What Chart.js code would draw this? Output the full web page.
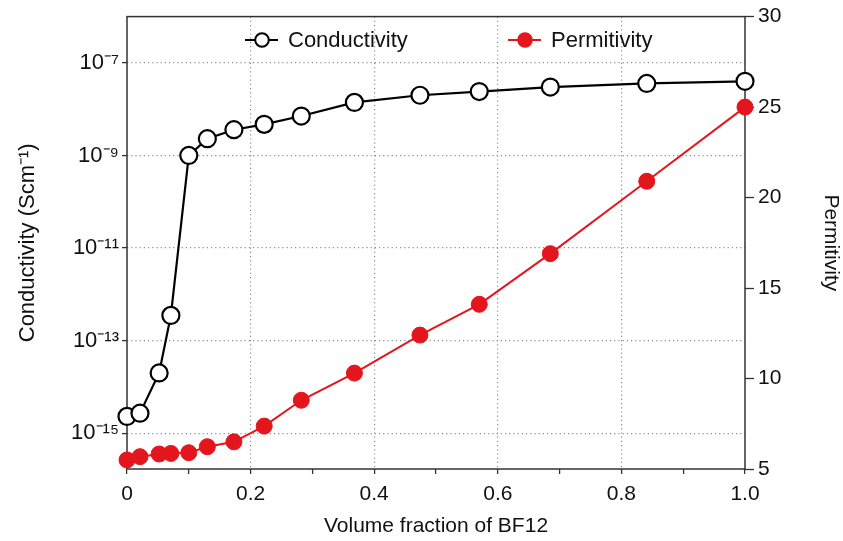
<!DOCTYPE html>
<html><head><meta charset="utf-8">
<script src="https://cdn.jsdelivr.net/npm/chart.js@4/dist/chart.umd.min.js"></script>
<style>html,body{margin:0;padding:0;background:#fff}#wrap{width:843px;height:541px}</style>
</head><body><div id="wrap"><canvas id="c" width="843" height="541"></canvas></div>
<script>
const volumeFraction = [0, 0.021, 0.052, 0.071, 0.10, 0.13, 0.173, 0.222, 0.282, 0.368, 0.474, 0.57, 0.685, 0.841, 1.0];
const conductivity = [2.3e-15, 2.7e-15, 2.0e-14, 3.5e-13, 1.0e-9, 2.3e-9, 3.6e-9, 4.7e-9, 7.1e-9, 1.4e-8, 2.0e-8, 2.4e-8, 3.0e-8, 3.6e-8, 4.0e-8];
const permittivity = [5.5, 5.68, 5.83, 5.86, 5.9, 6.23, 6.5, 7.37, 8.8, 10.3, 12.4, 14.1, 16.9, 20.9, 25.0];
const seriesNames = ['Conductivity', 'Permitivity'];
const conductivityTicks = [1e-15, 1e-13, 1e-11, 1e-9, 1e-7];
const conductivityTickLabels = ['10\u207B\u00B9\u2075', '10\u207B\u00B9\u00B3', '10\u207B\u00B9\u00B9', '10\u207B\u2079', '10\u207B\u2077'];
const xTickLabels = ['0', '0.2', '0.4', '0.6', '0.8', '1.0'];

const FONT = '"Liberation Sans", Arial, Helvetica, sans-serif';
const RED = '#e3161e';
const GRID = '#8f8f8f';
const AXIS = '#333333';
Chart.defaults.font.family = FONT;
Chart.defaults.color = '#111111';

const frame = {
  id: 'frame',
  beforeDatasetsDraw(chart) {
    const {ctx, chartArea: a} = chart;
    ctx.save();
    ctx.strokeStyle = AXIS;
    ctx.lineWidth = 1.5;
    ctx.strokeRect(a.left, a.top, a.right - a.left, a.bottom - a.top);
    ctx.restore();
  }
};

const legendInside = {
  id: 'legendInside',
  afterDraw(chart) {
    const {ctx} = chart;
    const starts = [245, 508];
    const y = 40;
    ctx.save();
    chart.data.datasets.forEach((ds, i) => {
      const x0 = starts[i];
      ctx.strokeStyle = ds.borderColor;
      ctx.lineWidth = 2;
      ctx.beginPath(); ctx.moveTo(x0, y); ctx.lineTo(x0 + 33, y); ctx.stroke();
      ctx.beginPath(); ctx.arc(x0 + 17, y, 6.8, 0, Math.PI * 2);
      ctx.fillStyle = ds.pointBackgroundColor; ctx.fill();
      ctx.lineWidth = 2; ctx.strokeStyle = ds.pointBorderColor; ctx.stroke();
      ctx.fillStyle = '#111';
      ctx.font = '22px ' + FONT;
      ctx.textBaseline = 'middle';
      ctx.fillText(ds.label, x0 + 43, y + 1);
    });
    ctx.restore();
  }
};

new Chart(document.getElementById('c'), {
  type: 'line',
  data: {
    datasets: [
      {
        label: seriesNames[0],
        data: volumeFraction.map((x, i) => ({x, y: conductivity[i]})),
        yAxisID: 'y',
        borderColor: '#000000', borderWidth: 2.2,
        pointBackgroundColor: '#ffffff', pointBorderColor: '#000000',
        pointRadius: 8.5, pointBorderWidth: 2.2,
        clip: false
      },
      {
        label: seriesNames[1],
        data: volumeFraction.map((x, i) => ({x, y: permittivity[i]})),
        yAxisID: 'y2',
        borderColor: RED, borderWidth: 2,
        pointBackgroundColor: RED, pointBorderColor: RED,
        pointRadius: 8, pointBorderWidth: 1,
        clip: false
      }
    ]
  },
  options: {
    responsive: false, animation: false, devicePixelRatio: 1,
    layout: {padding: {top: 15, left: 0, right: 0, bottom: 0}},
    plugins: {legend: {display: false}, tooltip: {enabled: false}},
    scales: {
      x: {
        type: 'linear', position: 'bottom', min: 0, max: 1,
        ticks: {
          stepSize: 0.1, autoSkip: false, maxRotation: 0, padding: 8,
          font: {size: 21}, color: '#111',
          callback: (v) => { const i = Math.round(v * 10); return i % 2 === 0 ? xTickLabels[i / 2] : ''; }
        },
        grid: {
          color: (c) => {
            if (!c.tick) return 'rgba(0,0,0,0)';
            const i = Math.round(c.tick.value * 10);
            return (i % 2 === 0 && i > 0 && i < 10) ? GRID : 'rgba(0,0,0,0)';
          },
          lineWidth: 1.2, borderDash: [1.2, 3], tickBorderDash: [],
          tickColor: AXIS, tickLength: 5, tickWidth: 1.3
        },
        border: {display: false, dash: [1.2, 3]},
        title: {display: true, text: 'Volume fraction of BF12', font: {size: 21}, color: '#111', padding: {top: 1, bottom: 2}},
        afterFit: (s) => { s.height = 72; }
      },
      y: {
        type: 'logarithmic', position: 'left', min: 1.68e-16, max: 1e-6,
        afterBuildTicks: (s) => { s.ticks = conductivityTicks.map(v => ({value: v, major: true})); },
        ticks: {
          font: {size: 22}, color: '#111', padding: 3, autoSkip: false,
          callback: (v, i) => conductivityTickLabels[i]
        },
        grid: {
          color: GRID, lineWidth: 1.2, borderDash: [1.2, 3], tickBorderDash: [],
          tickColor: AXIS, tickLength: 5, tickWidth: 1.3
        },
        border: {display: false, dash: [1.2, 3]},
        title: {display: true, text: 'Conductivity (Scm\u207B\u00B9)', font: {size: 22}, color: '#111', padding: {top: 15, bottom: 0}},
        afterFit: (s) => { s.width = 127; }
      },
      y2: {
        type: 'linear', position: 'right', min: 5, max: 30,
        ticks: {stepSize: 5, font: {size: 21}, color: '#111', padding: 4},
        grid: {drawOnChartArea: false, tickColor: AXIS, tickLength: 9, tickWidth: 1.3, color: AXIS},
        border: {display: false},
        title: {display: true, text: 'Permitivity', font: {size: 21}, color: '#111', padding: {top: 0, bottom: 0}},
        afterFit: (s) => { s.width = 98; }
      }
    }
  },
  plugins: [frame, legendInside]
});
</script>
</body></html>
